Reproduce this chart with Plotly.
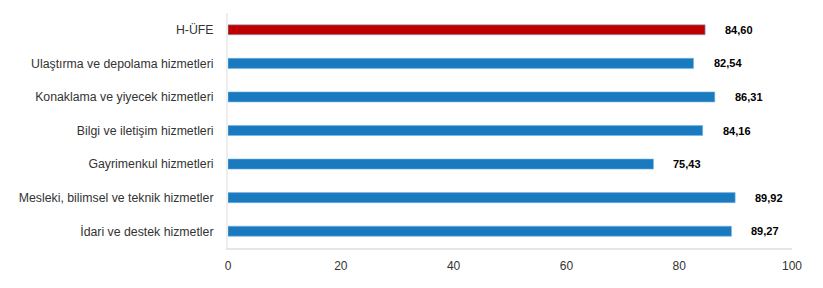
import plotly.graph_objects as go

categories = ["H-ÜFE", "Ulaştırma ve depolama hizmetleri", "Konaklama ve yiyecek hizmetleri",
              "Bilgi ve iletişim hizmetleri", "Gayrimenkul hizmetleri",
              "Mesleki, bilimsel ve teknik hizmetler", "İdari ve destek hizmetler"]
values = [84.60, 82.54, 86.31, 84.16, 75.43, 89.92, 89.27]
colors = ["#c00000"] + ["#1a7abf"] * 6
labels = [f"{v:.2f}".replace(".", ",") for v in values]

fig = go.Figure()
fig.add_trace(go.Bar(
    y=categories, x=values, orientation="h",
    marker=dict(color=colors, line=dict(color="rgba(120,180,230,0.6)", width=1)),
    hoverinfo="skip",
))
for c, v, t in zip(categories, values, labels):
    fig.add_annotation(x=v, y=c, text=f"<b>{t}</b>", showarrow=False,
                       xanchor="left", xshift=18,
                       font=dict(family="Liberation Sans, Arial", size=11, color="#000"))

fig.update_layout(
    width=823, height=288,
    margin=dict(l=228, r=31, t=13, b=40),
    plot_bgcolor="white", paper_bgcolor="white",
    bargap=0.7, showlegend=False,
    font=dict(family="Liberation Sans, Arial", size=12, color="#333"),
    xaxis=dict(range=[0, 100], tickvals=[0, 20, 40, 60, 80, 100], showgrid=False,
               zeroline=False, showline=True, linecolor="#e6e6e6", linewidth=2,
               ticks="", ticklabelstandoff=6, tickfont=dict(size=12, color="#333")),
    yaxis=dict(autorange="reversed", showgrid=False, showline=True, linecolor="#eeeeee",
               linewidth=2, ticks="", ticklabelstandoff=10, tickfont=dict(size=12.3, color="#333")),
)
fig.write_html("out.html")
